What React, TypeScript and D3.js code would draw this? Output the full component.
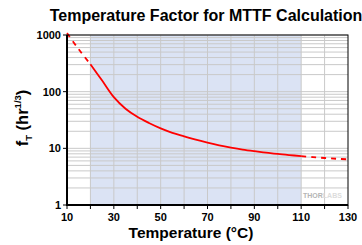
import React from 'react';
import * as d3 from 'd3';

// values
const temps = [10, 15, 20, 25, 30, 35, 40, 45, 50, 55, 60, 65, 70, 75, 80, 85, 90, 95, 100, 105, 110, 115, 120, 125, 130];
const factors = [1080, 560, 305, 157, 80, 50, 36, 28, 22.5, 18.8, 16.3, 14.2, 12.6, 11.3, 10.3, 9.5, 8.9, 8.4, 7.95, 7.6, 7.3, 7.0, 6.75, 6.55, 6.4];
const xTicks = [10, 30, 50, 70, 90, 110, 130];
const yTicks = [1, 10, 100, 1000];
const ratedRange = [20, 110];

const W = 362;
const H = 245;
const m = { left: 67, right: 348, top: 35, bottom: 205 };
const font = "'Liberation Sans', Arial, sans-serif";

export default function App() {
  const x = d3.scaleLinear().domain([10, 130]).range([m.left, m.right]);
  const y = d3.scaleLog().domain([1, 1000]).range([m.bottom, m.top]);

  const pts = temps.map((t, i) => [t, factors[i]] as [number, number]);
  const line = d3
    .line<[number, number]>()
    .x((d) => x(d[0]))
    .y((d) => y(d[1]))
    .curve(d3.curveCatmullRom.alpha(0.5));

  const lowPart = pts.filter((d) => d[0] <= ratedRange[0]);
  const midPart = pts.filter((d) => d[0] >= ratedRange[0] && d[0] <= ratedRange[1]);
  const highPart = pts.filter((d) => d[0] >= ratedRange[1]);

  const vGrid = d3.range(20, 130, 10);
  const hGrid: number[] = [];
  [1, 10, 100].forEach((dec) => {
    for (let k = 2; k <= 10; k++) hGrid.push(k * dec);
  });
  const xMinor = d3.range(10, 131, 10);

  return (
    <svg width={W} height={H} style={{ position: 'absolute', left: 0, top: 0, background: '#fff' }} fontFamily={font}>
      <text x={206} y={21} textAnchor="middle" fontSize={16} fontWeight="bold">
        Temperature Factor for MTTF Calculation
      </text>

      {/* shaded rated region */}
      <rect
        x={x(ratedRange[0])}
        y={m.top}
        width={x(ratedRange[1]) - x(ratedRange[0])}
        height={m.bottom - m.top}
        fill="#dbe3f4"
      />

      {/* grid */}
      {vGrid.map((v) => (
        <line key={'v' + v} x1={x(v)} x2={x(v)} y1={m.top} y2={m.bottom} stroke="#c9c9c9" strokeWidth={1} />
      ))}
      {hGrid.map((v) => (
        <line key={'h' + v} x1={m.left} x2={m.right} y1={y(v)} y2={y(v)} stroke="#c9c9c9" strokeWidth={1} />
      ))}

      {/* watermark */}
      <text x={303} y={198} fontSize={7} fontWeight="bold" fill="#b5b5b5">
        THOR<tspan fill="#dcdcdc">LABS</tspan>
      </text>

      {/* curve */}
      <path d={line(lowPart) || ''} fill="none" stroke="#ff0000" strokeWidth={1.8} strokeDasharray="5,5" />
      <path d={line(midPart) || ''} fill="none" stroke="#ff0000" strokeWidth={1.8} />
      <path d={line(highPart) || ''} fill="none" stroke="#ff0000" strokeWidth={1.8} strokeDasharray="5,5" />

      {/* frame */}
      <rect x={m.left} y={m.top} width={m.right - m.left} height={m.bottom - m.top} fill="none" stroke="#000" strokeWidth={1} />
      <line x1={m.left} x2={m.left} y1={m.top} y2={m.bottom + 1} stroke="#000" strokeWidth={2} />
      <line x1={m.left - 1} x2={m.right} y1={m.bottom} y2={m.bottom} stroke="#000" strokeWidth={2} />

      {/* x ticks */}
      {xMinor.map((v) => (
        <line key={'xt' + v} x1={x(v)} x2={x(v)} y1={m.bottom} y2={m.bottom + 4} stroke="#000" strokeWidth={1} />
      ))}
      {xTicks.map((v) => (
        <text key={'xl' + v} x={x(v)} y={221} textAnchor="middle" fontSize={11} fontWeight="bold">
          {v}
        </text>
      ))}

      {/* y ticks */}
      {yTicks.map((v) => (
        <g key={'yt' + v}>
          <line x1={m.left - 4} x2={m.left} y1={y(v)} y2={y(v)} stroke="#000" strokeWidth={1} />
          <text x={m.left - 6} y={y(v) + 4} textAnchor="end" fontSize={11} fontWeight="bold">
            {v}
          </text>
        </g>
      ))}

      {/* axis titles */}
      <text x={191} y={238} textAnchor="middle" fontSize={15.5} fontWeight="bold">
        Temperature (°C)
      </text>
      <text transform="translate(28,118) rotate(-90)" textAnchor="middle" fontSize={16.5} fontWeight="bold">
        f<tspan fontSize={9.5} dy={4}>T</tspan>
        <tspan dy={-4}> (hr</tspan>
        <tspan fontSize={9.5} dy={-7}>1/3</tspan>
        <tspan dy={7}>)</tspan>
      </text>
    </svg>
  );
}
